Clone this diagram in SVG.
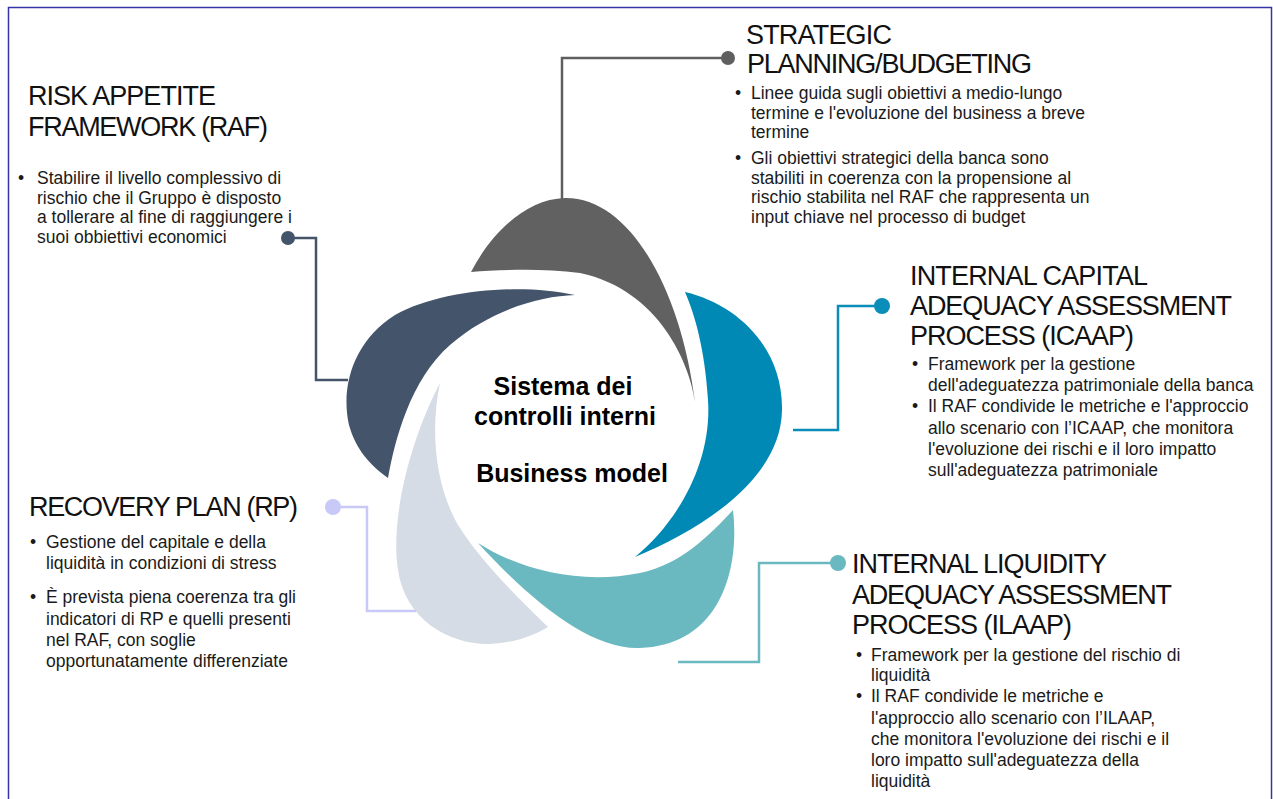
<svg xmlns="http://www.w3.org/2000/svg" width="1273" height="799" viewBox="0 0 1273 799">
<style>
.t{font-family:"Liberation Sans",Arial,sans-serif;font-size:27px;fill:#111;}
.b{font-family:"Liberation Sans",Arial,sans-serif;font-size:17.5px;fill:#1a1a1a;}
.c{font-family:"Liberation Sans",Arial,sans-serif;font-size:25px;font-weight:bold;fill:#000;text-anchor:middle;}
.ln{fill:none;stroke-width:2.5;}
</style>
<rect x="8.5" y="7.5" width="1263" height="800" fill="#fff" stroke="#3535a8" stroke-width="1.5"/>
<g id="petals">
<path id="petal-strategic" d="M471,272 C490,235 525,199 565,198 C630,197 681,290 695,402 C690,365 660,290 580,273 C540,268 500,270 471,272 Z" fill="#616161"/>
<path id="petal-raf" d="M575,295 C520,283 440,290 395,315 C355,340 340,385 349,425 C356,450 370,465 388,478 C395,440 410,380 450,345 C490,310 540,296 575,295 Z" fill="#44546A"/>
<path id="petal-icaap" d="M685,292 C740,305 783,350 782,410 C781,480 700,530 635,557 C680,520 712,460 708,400 C705,350 695,315 685,292 Z" fill="#0089B4"/>
<path id="petal-ilaap" d="M733,510 C740,570 720,645 640,648 C590,650 530,600 478,543 C520,570 580,585 640,573 C680,565 710,535 733,510 Z" fill="#6BB9C0"/>
<path id="petal-rp" d="M440,383 C410,440 390,520 398,570 C405,620 450,645 490,644 C515,643 535,635 548,627 C515,595 480,560 458,525 C435,485 430,430 440,383 Z" fill="#D5DCE6"/>
</g>
<g id="connectors">
<path class="ln" d="M562,199 V58 H722" stroke="#5F5F5F"/>
<circle cx="728" cy="58" r="7" fill="#5F5F5F"/>
<path class="ln" d="M288,238 H316 V380 H348" stroke="#44546A"/>
<circle cx="288" cy="238" r="7" fill="#44546A"/>
<path class="ln" d="M882,306 H838 V430 H793" stroke="#0A8DB8"/>
<circle cx="882" cy="306" r="8" fill="#0A8DB8"/>
<path class="ln" d="M838,563 H759 V662 H678" stroke="#6BB9C0"/>
<circle cx="838" cy="563" r="8" fill="#6BB9C0"/>
<path class="ln" d="M333,507 H367 V611 H416" stroke="#C9C9F7"/>
<circle cx="333" cy="507" r="8" fill="#C9C9F7"/>
</g>
<g id="node-center">
<text class="c" x="563" y="395">Sistema dei</text>
<text class="c" x="565" y="425">controlli interni</text>
<text class="c" x="572" y="482">Business model</text>
</g>
<g id="node-raf">
<text class="t" x="28" y="105" textLength="188" lengthAdjust="spacing">RISK APPETITE</text>
<text class="t" x="28" y="136" textLength="240" lengthAdjust="spacing">FRAMEWORK (RAF)</text>
<text class="b" x="18" y="184">•</text>
<text class="b" x="37" y="184">Stabilire il livello complessivo di</text>
<text class="b" x="37" y="203.5">rischio che il Gruppo è disposto</text>
<text class="b" x="37" y="223">a tollerare al fine di raggiungere i</text>
<text class="b" x="37" y="242.5">suoi obbiettivi economici</text>
</g>
<g id="node-strategic">
<text class="t" x="746" y="44" textLength="146" lengthAdjust="spacing">STRATEGIC</text>
<text class="t" x="747" y="73" textLength="285" lengthAdjust="spacing">PLANNING/BUDGETING</text>
<text class="b" x="735" y="99">•</text>
<text class="b" x="751" y="99">Linee guida sugli obiettivi a medio-lungo</text>
<text class="b" x="751" y="118.5">termine e l'evoluzione del business a breve</text>
<text class="b" x="751" y="138">termine</text>
<text class="b" x="735" y="164">•</text>
<text class="b" x="751" y="164">Gli obiettivi strategici della banca sono</text>
<text class="b" x="751" y="183.5">stabiliti in coerenza con la propensione al</text>
<text class="b" x="751" y="203">rischio stabilita nel RAF che rappresenta un</text>
<text class="b" x="751" y="222.5">input chiave nel processo di budget</text>
</g>
<g id="node-icaap">
<text class="t" x="910" y="285" textLength="238" lengthAdjust="spacing">INTERNAL CAPITAL</text>
<text class="t" x="910" y="315" textLength="322" lengthAdjust="spacing">ADEQUACY ASSESSMENT</text>
<text class="t" x="910" y="345" textLength="224" lengthAdjust="spacing">PROCESS (ICAAP)</text>
<text class="b" x="912" y="370">•</text>
<text class="b" x="928" y="370">Framework per la gestione</text>
<text class="b" x="928" y="391">dell'adeguatezza patrimoniale della banca</text>
<text class="b" x="912" y="412">•</text>
<text class="b" x="928" y="412">Il RAF condivide le metriche e l'approccio</text>
<text class="b" x="928" y="434">allo scenario con l’ICAAP, che monitora</text>
<text class="b" x="928" y="455">l'evoluzione dei rischi e il loro impatto</text>
<text class="b" x="928" y="476">sull'adeguatezza patrimoniale</text>
</g>
<g id="node-ilaap">
<text class="t" x="852" y="573" textLength="255" lengthAdjust="spacing">INTERNAL LIQUIDITY</text>
<text class="t" x="852" y="604" textLength="320" lengthAdjust="spacing">ADEQUACY ASSESSMENT</text>
<text class="t" x="852" y="634" textLength="220" lengthAdjust="spacing">PROCESS (ILAAP)</text>
<text class="b" x="856" y="661">•</text>
<text class="b" x="871" y="661">Framework per la gestione del rischio di</text>
<text class="b" x="871" y="681">liquidità</text>
<text class="b" x="856" y="702">•</text>
<text class="b" x="871" y="702">Il RAF condivide le metriche e</text>
<text class="b" x="871" y="724">l'approccio allo scenario con l’ILAAP,</text>
<text class="b" x="871" y="745">che monitora l'evoluzione dei rischi e il</text>
<text class="b" x="871" y="766">loro impatto sull'adeguatezza della</text>
<text class="b" x="871" y="787">liquidità</text>
</g>
<g id="node-rp">
<text class="t" x="29" y="516" textLength="269" lengthAdjust="spacing">RECOVERY PLAN (RP)</text>
<text class="b" x="30" y="548">•</text>
<text class="b" x="46" y="548">Gestione del capitale e della</text>
<text class="b" x="46" y="569">liquidità in condizioni di stress</text>
<text class="b" x="30" y="603">•</text>
<text class="b" x="46" y="603">È prevista piena coerenza tra gli</text>
<text class="b" x="46" y="625">indicatori di RP e quelli presenti</text>
<text class="b" x="46" y="646">nel RAF, con soglie</text>
<text class="b" x="46" y="667">opportunatamente differenziate</text>
</g>
</svg>
